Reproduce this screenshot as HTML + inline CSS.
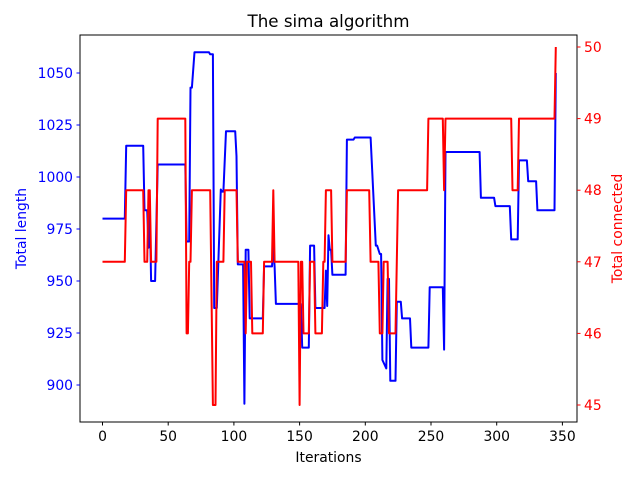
<!DOCTYPE html>
<html><head><meta charset="utf-8"><style>
body{margin:0;background:#fff;font-family:"DejaVu Sans","Liberation Sans",sans-serif}
svg text{font-family:"DejaVu Sans","Liberation Sans",sans-serif}
</style></head><body>
<svg id="chart" width="640" height="480" xmlns="http://www.w3.org/2000/svg"></svg>
<script>
const xTicks=[0,50,100,150,200,250,300,350];
const leftTicks=[900,925,950,975,1000,1025,1050];
const rightTicks=[45,46,47,48,49,50];
const lengthIter=[0,17,18,31,32,34,35,36,37,40,42,63,64,66,67,68,70,81,82,84,85,87,90,91,92,94,101,102,103,107,108,109,111,112,122,123,129,130,131,132,150,151,152,157,158,161,162,169,170,171,172,173,174,175,185,186,191,192,203,204,208,209,211,212,213,216,217,218,219,223,224,227,228,234,235,248,249,259,260,261,287,288,298,299,310,311,316,317,323,324,330,331,344,345];
const lengthVal=[980,980,1015,1015,984,984,966,984,950,950,1006,1006,969,969,1043,1043,1060,1060,1059,1059,937,937,994,993,993,1022,1022,1010,958,958,891,965,965,932,932,957,957,967,957,939,939,939,918,918,967,967,937,937,955,938,972,965,965,953,953,1018,1018,1019,1019,1019,967,967,963,963,912,908,951,951,902,902,940,940,932,932,918,918,947,947,917,1012,1012,990,990,986,986,970,970,1008,1008,998,998,984,984,1050];
const connIter=[0,17,18,31,32,34,35,36,37,41,42,63,64,65,66,67,68,81,82,84,85,86,87,92,93,102,103,107,108,109,110,113,114,122,123,129,130,131,132,149,150,151,152,153,157,158,161,162,167,168,169,170,174,175,185,186,203,204,210,211,213,214,215,217,218,219,223,224,225,247,248,258,259,260,261,310,311,312,315,316,317,343,344,345];
const connVal=[47,47,48,48,47,47,48,48,47,47,49,49,46,46,47,47,48,48,48,45,45,45,47,47,48,48,47,47,47,46,47,47,46,46,47,47,48,47,47,47,45,47,47,46,46,47,47,46,46,47,47,48,48,47,47,48,48,47,47,46,46,47,47,47,46,46,46,47,48,48,49,49,49,48,49,49,49,48,48,48,49,49,49,50];

const NS="http://www.w3.org/2000/svg";
const svg=document.getElementById('chart');
const L=80,R=577,T=35,B=422;
const xs=v=>102.5+(v-0)*(459.9/350);
const yl=v=>385-(v-900)*2.08;
const yr=v=>405-(v-45)*71.6;
function el(t,a,txt){const e=document.createElementNS(NS,t);for(const k in a)e.setAttribute(k,a[k]);if(txt!==undefined)e.textContent=txt;svg.appendChild(e);return e;}

let e=el('rect',{x:L,y:T,width:R-L,height:B-T,fill:'#fff',stroke:'none'});



function line(ix,vals,yf,color,name){
  const d=ix.map((x,i)=>(i?'L':'M')+xs(x).toFixed(1)+','+yf(vals[i]).toFixed(1)).join('');
  const p=el('path',{d:d,fill:'none',stroke:color,'stroke-width':2,'stroke-linejoin':'round'});
  
  
}
line(lengthIter,lengthVal,yl,'#0000ff','total-length-line');
line(connIter,connVal,yr,'#ff0000','total-connected-line');

e=el('rect',{x:L,y:T,width:R-L,height:B-T,fill:'none',stroke:'#000','stroke-width':1});



xTicks.forEach(v=>{
  const x=xs(v);
  const t=el('line',{x1:x,x2:x,y1:B,y2:B+3.5,stroke:'#000'});
  
  
  const lb=el('text',{x:x,y:B+19,'font-size':13.9,'text-anchor':'middle',fill:'#000'},String(v));
  
  
});
leftTicks.forEach(v=>{
  const y=yl(v);
  const t=el('line',{x1:L-3.5,x2:L,y1:y,y2:y,stroke:'#0000ff'});
  
  
  const lb=el('text',{x:L-7,y:y+5,'font-size':13.9,'text-anchor':'end',fill:'#0000ff'},String(v));
  
  
});
rightTicks.forEach(v=>{
  const y=yr(v);
  const t=el('line',{x1:R,x2:R+3.5,y1:y,y2:y,stroke:'#ff0000'});
  
  
  const lb=el('text',{x:R+7,y:y+5,'font-size':13.9,'text-anchor':'start',fill:'#ff0000'},String(v));
  
  
});
e=el('text',{x:(L+R)/2,y:27,'font-size':16.7,'text-anchor':'middle',fill:'#000'},'The sima algorithm');


e=el('text',{x:(L+R)/2,y:462,'font-size':13.9,'text-anchor':'middle',fill:'#000'},'Iterations');


e=el('text',{x:26,y:(T+B)/2,'font-size':13.9,'text-anchor':'middle',fill:'#0000ff',transform:'rotate(-90 26 '+((T+B)/2)+')'},'Total length');


e=el('text',{x:622,y:(T+B)/2,'font-size':13.9,'text-anchor':'middle',fill:'#ff0000',transform:'rotate(-90 622 '+((T+B)/2)+')'},'Total connected');


</script>
</body></html>
